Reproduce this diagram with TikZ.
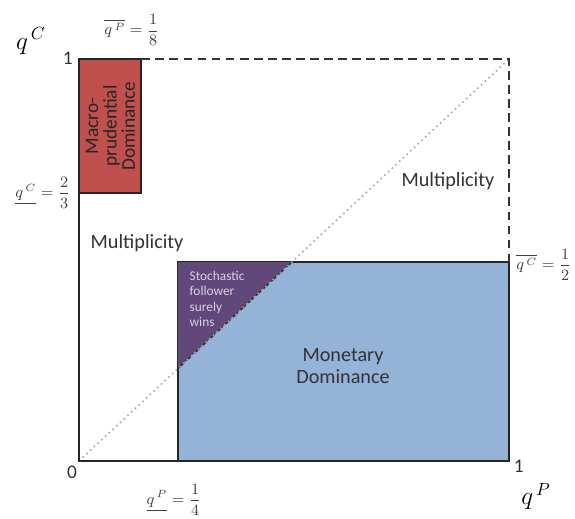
\documentclass[tikz,border=0pt]{standalone}
\usepackage{fontspec}
\setmainfont{Carlito}
\usepackage{amsmath}
\usetikzlibrary{calc}

\definecolor{macrored}{RGB}{192,80,77}
\definecolor{monblue}{RGB}{149,179,215}
\definecolor{stochpurple}{RGB}{96,73,122}
\definecolor{labelgray}{RGB}{50,50,55}

\begin{document}
\begin{tikzpicture}[x=8.6cm, y=8.04cm,
  boxline/.style={draw=black!85, line width=1.1pt},
  regionlabel/.style={font=\fontsize{11.5}{13}\selectfont, labelgray},
  axislabel/.style={font=\fontsize{11}{12}\selectfont, black!80},
  cutoff/.style={font=\small, black!75}]

% Background
\useasboundingbox (-0.1837,-0.1418) rectangle (1.1535,1.1468);
\fill[white] (-0.1837,-0.1418) rectangle (1.1535,1.1468);

% corners of the unit square
\coordinate (O) at (0,0);
\coordinate (P1) at (1,0);
\coordinate (C1) at (0,1);
\coordinate (E) at (1,1);

% === REGIONS ===
% macroprudential dominance
\filldraw[fill=macrored, boxline] (0,0.667) rectangle (0.145,1);
% monetary dominance
\filldraw[fill=monblue, boxline] (0.23,0) rectangle (1,0.495);
% stochastic follower surely wins
\fill[stochpurple] (0.23,0.495) -- (0.495,0.495) -- (0.23,0.23) -- cycle;
\draw[black!80, line width=0.9pt, dash pattern=on 4pt off 2pt] (0.495,0.495) -- (0.23,0.23);

% === FRAME ===
\draw[gray!70, dotted, line width=0.9pt] (O) -- (E);
\draw[boxline] (C1) -- (O) -- (P1) -- (1,0.495);
\draw[black!80, line width=1.3pt, dash pattern=on 5pt off 3pt] (0.145,1) -- (E) -- (1,0.495);

% === TEXT IN REGIONS ===
\node[font=\fontsize{11}{10.5}\selectfont, black!85, align=center, rotate=90] (macro) at (0.073,0.833) {Macro-\\prudential\\Dominance};
\node[regionlabel, align=center] (monetary) at (0.614,0.236) {Monetary\\Dominance};
\node[font=\fontsize{7.6}{8.8}\selectfont, stochpurple!25, align=left, anchor=north west] (stoch) at (0.243,0.488) {Stochastic\\follower\\surely\\wins};
\node[regionlabel] (multleft) at (0.135,0.542) {Multiplicity};
\node[regionlabel] (multright) at (0.858,0.697) {Multiplicity};

% === AXES ===
\node[axislabel] (zero) at (-0.016,-0.027) {0};
\node[axislabel] (onetop) at (-0.026,1.002) {1};
\node[axislabel] (oneright) at (1.023,-0.012) {1};
\node[font=\Large] (qC) at (-0.112,1.045) {$q^{\,C}$};
\node[font=\Large] (qP) at (1.063,-0.088) {$q^{\,P}$};

% === CUT-OFFS ===
\node[cutoff] (qPbar) at (0.123,1.072) {$\overline{q^{\,P}} = \dfrac{1}{8}$};
\node[cutoff] (qCunder) at (-0.084,0.667) {$\underline{q^{\,C}} = \dfrac{2}{3}$};
\node[cutoff] (qCbar) at (1.081,0.488) {$\overline{q^{\,C}} = \dfrac{1}{2}$};
\node[cutoff] (qPunder) at (0.221,-0.096) {$\underline{q^{\,P}} = \dfrac{1}{4}$};

\end{tikzpicture}
\end{document}
